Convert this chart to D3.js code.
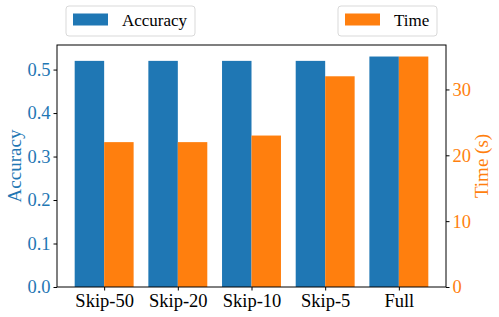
<!DOCTYPE html>
<html>
<head>
<meta charset="utf-8">
<script src="https://cdn.jsdelivr.net/npm/d3@7"></script>
<style>
  body { margin: 0; background: #fff; }
  text { font-family: "Liberation Serif", "Times New Roman", serif; }
</style>
</head>
<body>
<svg id="chart"></svg>
<script>
// chart data
const categories = ["Skip-50", "Skip-20", "Skip-10", "Skip-5", "Full"];
const accuracy = [0.52, 0.52, 0.52, 0.52, 0.53];
const timeSec = [22, 22, 23, 32, 35];
const accTicks = [0.0, 0.1, 0.2, 0.3, 0.4, 0.5];
const timeTicks = [0, 10, 20, 30];

const width = 499, height = 317;
const margin = { top: 45, right: 53, bottom: 30, left: 57 };
const blue = "#1f77b4", orange = "#ff7f0e";

const svg = d3.select("#chart")
    .attr("width", width)
    .attr("height", height);

const plotW = width - margin.left - margin.right;
const plotH = height - margin.top - margin.bottom;

const g = svg.append("g")
    .attr("transform", "translate(" + margin.left + "," + margin.top + ")");

// x in category units, matplotlib style margins
const x = d3.scaleLinear()
    .domain([-0.64, categories.length - 1 + 0.64])
    .range([0, plotW]);
const barW = 0.4;

const yAcc = d3.scaleLinear()
    .domain([0, d3.max(accuracy) * 1.05])
    .range([plotH, 0]);
const yTime = d3.scaleLinear()
    .domain([0, d3.max(timeSec) * 1.05])
    .range([plotH, 0]);

// accuracy bars
g.selectAll("rect.acc")
    .data(accuracy)
    .enter()
    .append("rect")
    .attr("class", "acc")
    .attr("x", (d, i) => x(i - barW))
    .attr("width", x(barW) - x(0))
    .attr("y", d => yAcc(d))
    .attr("height", d => plotH - yAcc(d))
    .attr("fill", blue);

// time bars
g.selectAll("rect.time")
    .data(timeSec)
    .enter()
    .append("rect")
    .attr("class", "time")
    .attr("x", (d, i) => x(i))
    .attr("width", x(barW) - x(0))
    .attr("y", d => yTime(d))
    .attr("height", d => plotH - yTime(d))
    .attr("fill", orange);

// axes
const xAxis = g.append("g")
    .attr("transform", "translate(0," + plotH + ")")
    .call(d3.axisBottom(x).tickValues(d3.range(categories.length))
        .tickFormat(i => categories[i]).tickSizeOuter(0).tickSize(3.5).tickPadding(3));
xAxis.select(".domain").remove();
xAxis.selectAll("text").attr("font-size", 18.5).attr("fill", "#000");

const leftAxis = g.append("g")
    .call(d3.axisLeft(yAcc).tickValues(accTicks).tickFormat(d3.format(".1f"))
        .tickSizeOuter(0).tickSize(3.5).tickPadding(3));
leftAxis.select(".domain").remove();
leftAxis.selectAll("text").attr("font-size", 18.5).attr("fill", blue);

const rightAxis = g.append("g")
    .attr("transform", "translate(" + plotW + ",0)")
    .call(d3.axisRight(yTime).tickValues(timeTicks).tickFormat(d3.format("d"))
        .tickSizeOuter(0).tickSize(3.5).tickPadding(3));
rightAxis.select(".domain").remove();
rightAxis.selectAll("text").attr("font-size", 18.5).attr("fill", orange);

// frame
g.append("rect")
    .attr("width", plotW)
    .attr("height", plotH)
    .attr("fill", "none")
    .attr("stroke", "#000")
    .attr("stroke-width", 1);

// axis labels
svg.append("text")
    .attr("transform", "translate(21," + (margin.top + plotH / 2) + ") rotate(-90)")
    .attr("text-anchor", "middle")
    .attr("font-size", 19)
    .attr("fill", blue)
    .text("Accuracy");

svg.append("text")
    .attr("transform", "translate(488," + (margin.top + plotH / 2) + ") rotate(-90)")
    .attr("text-anchor", "middle")
    .attr("font-size", 19)
    .attr("fill", orange)
    .text("Time (s)");

// legends
function legend(x0, w, color, label) {
    const lg = svg.append("g").attr("transform", "translate(" + x0 + ",6)");
    lg.append("rect")
        .attr("width", w).attr("height", 30)
        .attr("rx", 3)
        .attr("fill", "#fff")
        .attr("stroke", "#d9d9d9");
    lg.append("rect")
        .attr("x", 7).attr("y", 7.5)
        .attr("width", 35).attr("height", 12)
        .attr("fill", color);
    lg.append("text")
        .attr("x", 56).attr("y", 20)
        .attr("font-size", 17)
        .attr("fill", "#000")
        .text(label);
}
legend(66, 129, blue, "Accuracy");
legend(338, 99, orange, "Time");
</script>
</body>
</html>
